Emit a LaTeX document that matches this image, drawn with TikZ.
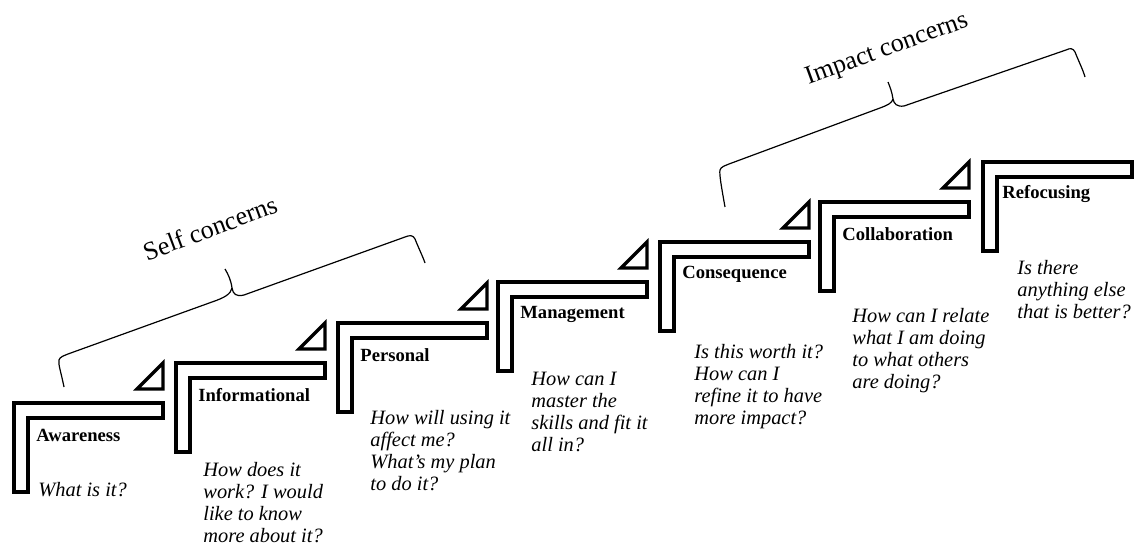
\documentclass[tikz,border=0pt]{standalone}
\usepackage{fontspec}
\setmainfont{Liberation Serif}
\begin{document}
\begin{tikzpicture}[x=0.5pt,y=0.5pt,
  stepline/.style={line width=1.6pt,line join=miter},
  wedge/.style={line width=1.6pt,line join=miter},
  bracestroke/.style={line width=0.6pt},
  stagelabel/.style={anchor=west,inner sep=0pt,font=\fontsize{9.3}{11}\selectfont\bfseries},
  question/.style={anchor=north west,align=left,inner sep=0pt,font=\fontsize{10.2}{11}\selectfont\itshape},
  grouptitle/.style={inner sep=0pt,font=\fontsize{13}{15}\selectfont}]
\useasboundingbox (0,0) rectangle (1135,552);

% Gradini della scala
\draw[stepline] (14,149) -- ++(149,0) -- ++(0,-15) -- ++(-135,0) -- ++(0,-74) -- ++(-14,0) -- cycle;
\draw[stepline] (176,189) -- ++(149,0) -- ++(0,-15) -- ++(-135,0) -- ++(0,-74) -- ++(-14,0) -- cycle;
\draw[stepline] (338,229) -- ++(149,0) -- ++(0,-15) -- ++(-135,0) -- ++(0,-74) -- ++(-14,0) -- cycle;
\draw[stepline] (498,270) -- ++(149,0) -- ++(0,-15) -- ++(-135,0) -- ++(0,-74) -- ++(-14,0) -- cycle;
\draw[stepline] (660,310) -- ++(149,0) -- ++(0,-15) -- ++(-135,0) -- ++(0,-74) -- ++(-14,0) -- cycle;
\draw[stepline] (820,350) -- ++(149,0) -- ++(0,-15) -- ++(-135,0) -- ++(0,-74) -- ++(-14,0) -- cycle;
\draw[stepline] (983,390) -- ++(149,0) -- ++(0,-15) -- ++(-135,0) -- ++(0,-74) -- ++(-14,0) -- cycle;

% Triangoli sopra i gradini
\draw[wedge] (137,163) -- (163,163) -- (163,189) -- cycle;
\draw[wedge] (299,203) -- (325,203) -- (325,229) -- cycle;
\draw[wedge] (461,243) -- (487,243) -- (487,269) -- cycle;
\draw[wedge] (621,284) -- (647,284) -- (647,310) -- cycle;
\draw[wedge] (783,324) -- (809,324) -- (809,350) -- cycle;
\draw[wedge] (943,364) -- (969,364) -- (969,390) -- cycle;

% Nomi degli stadi
\node[stagelabel] (aware) at (36,117) {Awareness};
\node[stagelabel] (inform) at (198,157) {Informational};
\node[stagelabel] (personal) at (360,197) {Personal};
\node[stagelabel] (manage) at (520,238) {Management};
\node[stagelabel] (conseq) at (682,278) {Consequence};
\node[stagelabel] (collab) at (842,318) {Collaboration};
\node[stagelabel] (refocus) at (1002,358) {Refocusing};

% Domande
\node[question] (qaware) at (38,70) {What is it?};
\node[question] (qinform) at (203,90) {How does it\\ work? I would\\ like to know\\ more about it?};
\node[question] (qpersonal) at (370,142) {How will using it\\ affect me?\\ What’s my plan\\ to do it?};
\node[question] (qmanage) at (531,180) {How can I\\ master the\\ skills and fit it\\ all in?};
\node[question] (qconseq) at (694,208) {Is this worth it?\\ How can I\\ refine it to have\\ more impact?};
\node[question] (qcollab) at (852,244) {How can I relate\\ what I am doing\\ to what others\\ are doing?};
\node[question] (qrefocus) at (1017,292) {Is there\\ anything else\\ that is better?};

% Parentesi graffe
\draw[bracestroke] (64,165) .. controls (61,180) and (58,188) .. (59,192)
  .. controls (60,195) and (63,196) .. (68,198) -- (212,250)
  .. controls (224,254) and (231,258) .. (232,264)
  .. controls (231,272) and (228,278) .. (225,283);
\draw[bracestroke] (232,264) .. controls (233,258) and (236,255) .. (244,257) -- (405,315)
  .. controls (410,317) and (413,317) .. (415,313)
  .. controls (419,303) and (423,295) .. (425,289);
\draw[bracestroke] (725,345) .. controls (722,362) and (719,378) .. (720,382)
  .. controls (721,385) and (724,386) .. (729,388) -- (880,444)
  .. controls (888,447) and (892,449) .. (893,453)
  .. controls (892,460) and (890,465) .. (888,470);
\draw[bracestroke] (893,453) .. controls (894,448) and (897,445) .. (904,446) -- (1066,502)
  .. controls (1070,504) and (1073,504) .. (1075,500)
  .. controls (1079,490) and (1083,482) .. (1085,475);

% Titoli dei gruppi
\node[grouptitle,rotate=20.5] (selftitle) at (210,324) {Self concerns};
\node[grouptitle,rotate=20] (impacttitle) at (887,502) {Impact concerns};
\end{tikzpicture}
\end{document}
